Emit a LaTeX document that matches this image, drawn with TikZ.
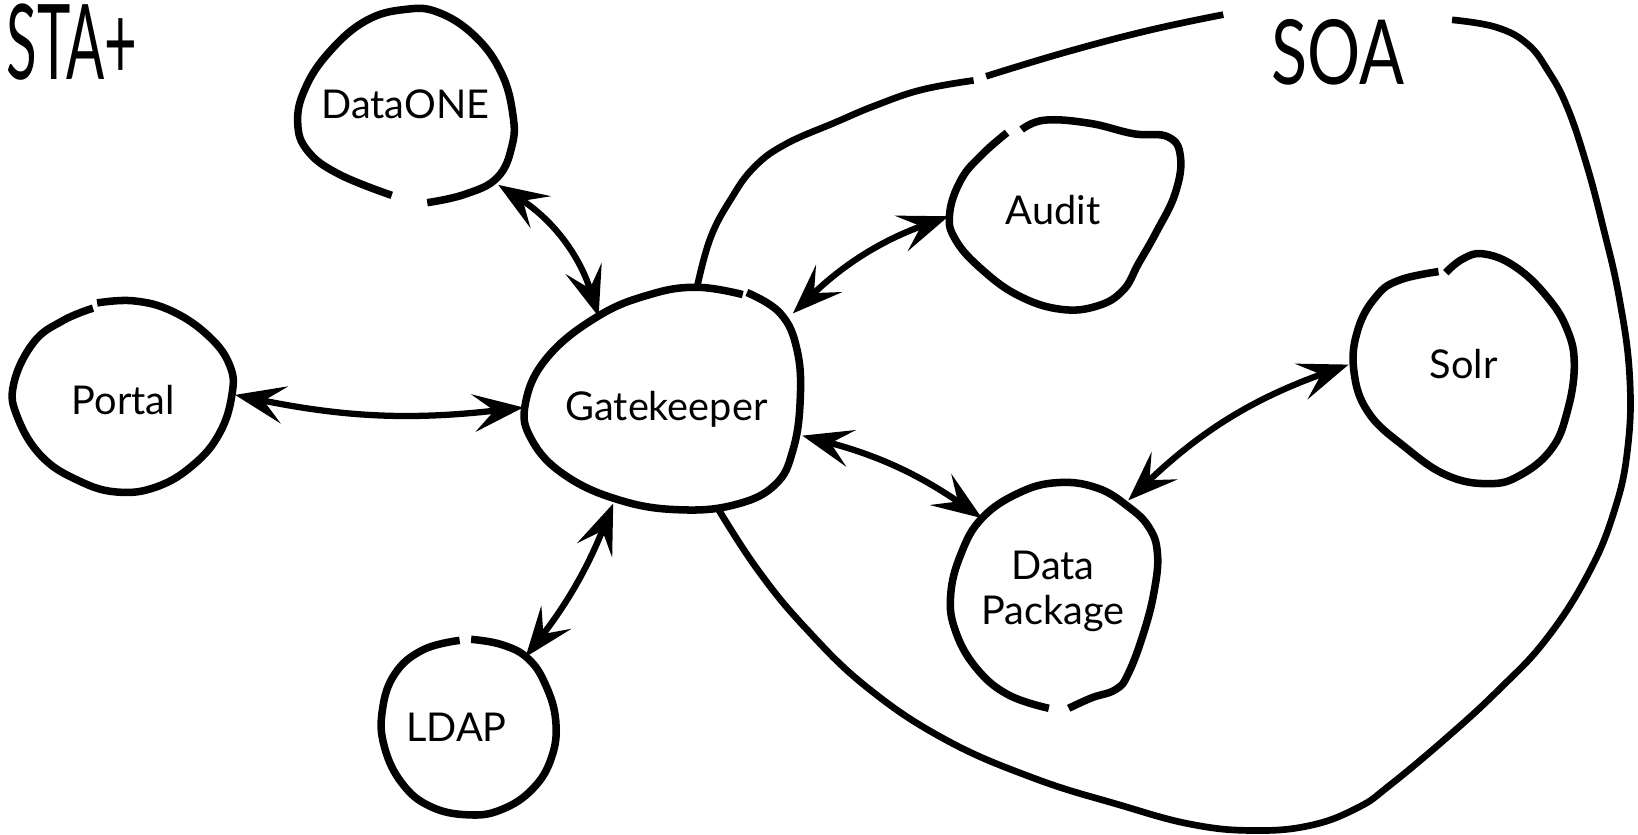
\documentclass[tikz,border=0pt]{standalone}
\usepackage{fontspec}
\usepackage{graphicx}
\setmainfont{Lato}
\usetikzlibrary{arrows.meta,shapes.geometric}
\tikzset{
  blobline/.style={line width=3.6pt, line join=round},
  soaline/.style={line width=3.2pt, line join=round},
  link/.style={line width=3pt,
    {Stealth[length=24pt,width=18pt,inset=10pt]}-{Stealth[length=24pt,width=18pt,inset=10pt]}},
  region/.style 2 args={ellipse, inner sep=0pt, minimum width=#1*0.5pt, minimum height=#2*0.5pt},
  lbl/.style={font=\fontsize{19}{21.5}\selectfont, align=center, inner sep=0pt},
}
\begin{document}
\begin{tikzpicture}[x=0.5pt,y=-0.5pt]
\clip (0,0) rectangle (1568,799);

% title texts
\node[anchor=base west, inner sep=0pt, font=\fontsize{50}{50}\selectfont] (sta) at (6,76) {\scalebox{0.54}[1]{STA+}};
\node[inner sep=0pt, font=\fontsize{43}{43}\selectfont] (soa) at (1281,50) {\scalebox{0.74}[1]{SOA}};

% nodes (regions of the blobs)
\node[region={210}{189}, label={[lbl,shift={(0,-2)}]center:DataONE}] (d1) at (388,102) {};
\node[region={210}{184}, label={[lbl,shift={(0,3)}]center:Portal}] (po) at (118,380) {};
\node[region={263}{213}, label={[lbl,shift={(4,11)}]center:Gatekeeper}] (gk) at (634,381) {};
\node[region={166}{168}, label={[lbl,shift={(-12,0)}]center:LDAP}] (ld) at (449,696) {};
\node[region={221}{181}, label={[lbl,shift={(-11,-4)}]center:Audit}] (au) at (1019,205) {};
\node[region={211}{220}, label={[lbl,shift={(0,-5)}]center:Solr}] (so) at (1401,353) {};
\node[region={198}{216}, label={[lbl,shift={(-1,-4)}]center:Data\\Package}] (dp) at (1009,570) {};

% blob outlines
\draw[blobline] plot[smooth, tension=0.7] coordinates {(409,194) (445,186) (476,170) (490,140) (491,110) (480,70) (455,35) (420,12) (388,9) (350,20) (315,50) (292,85) (285,118) (295,145) (325,167) (375,187)};
\draw[blobline] plot[smooth, tension=0.7] coordinates {(93,290) (128,288) (165,298) (200,322) (220,350) (222,378) (210,415) (185,445) (150,466) (112,471) (75,460) (40,437) (17,400) (13,368) (32,328) (60,307) (89,295)};
\draw[blobline] plot[smooth, tension=0.7] coordinates {(715,280) (747,300) (763,335) (766,383) (759,431) (742,464) (704,483) (651,488) (594,479) (541,455) (509,421) (503,386) (524,342) (572,303) (622,282) (667,275) (711,282)};
\draw[blobline] plot[smooth, tension=0.7] coordinates {(451,612) (480,617) (505,630) (522,655) (532,690) (528,725) (510,755) (480,775) (448,780) (412,772) (385,750) (368,715) (366,680) (378,645) (405,622) (440,613)};
\draw[blobline] plot[smooth, tension=0.7] coordinates {(978,124) (1000,115) (1043,118) (1085,128) (1118,131) (1130,150) (1125,185) (1107,222) (1090,252) (1075,278) (1050,293) (1015,296) (975,283) (940,258) (915,230) (909,205) (920,172) (940,148) (964,127)};
\draw[blobline] plot[smooth, tension=0.7] coordinates {(1384,261) (1400,248) (1420,243) (1450,255) (1480,283) (1500,315) (1507,350) (1500,395) (1485,430) (1455,455) (1425,463) (1385,455) (1345,428) (1310,395) (1296,355) (1300,315) (1318,283) (1340,268) (1377,260)};
\draw[blobline] plot[smooth, tension=0.7] coordinates {(1023,678) (1045,668) (1068,660) (1080,645) (1095,605) (1105,565) (1108,530) (1100,505) (1080,485) (1050,467) (1012,462) (975,472) (940,496) (920,530) (910,570) (915,605) (935,640) (965,665) (1004,678)};

% SOA boundary
\draw[soaline] plot[smooth, tension=0.7] coordinates {(667,276) (680,228) (700,190) (722,160) (752,138) (800,117) (838,101) (882,86) (932,77)};
\draw[soaline] plot[smooth, tension=0.7] coordinates {(944,73) (1020,50) (1100,29) (1171,14)};
\draw[soaline] plot[smooth, tension=0.7] coordinates {(1390,19) (1432,26) (1462,42) (1482,68) (1500,102) (1518,155) (1534,215) (1550,285) (1560,360) (1558,430) (1545,490) (1520,550) (1480,612) (1435,660) (1385,706) (1330,752) (1300,773) (1255,790) (1200,795) (1140,789) (1070,770) (990,745) (905,708) (830,658) (770,600) (725,545) (688,488)};

% connectors
\draw[link] ([shift={(89,75)}]d1.center) to[bend left=20] ([shift={(-61,-78)}]gk.center);
\draw[link] ([shift={(107,-2)}]po.center) to[bend right=9] ([shift={(-133,9)}]gk.center);
\draw[link] ([shift={(54,-67)}]ld.center) to[bend right=8] ([shift={(-47,101)}]gk.center);
\draw[link] ([shift={(125,-81)}]gk.center) to[bend left=12] ([shift={(-111,2)}]au.center);
\draw[link] ([shift={(134,36)}]gk.center) to[bend left=10] ([shift={(-69,-74)}]dp.center);
\draw[link] ([shift={(71,-91)}]dp.center) to[bend left=12] ([shift={(-110,-4)}]so.center);
\end{tikzpicture}
\end{document}
